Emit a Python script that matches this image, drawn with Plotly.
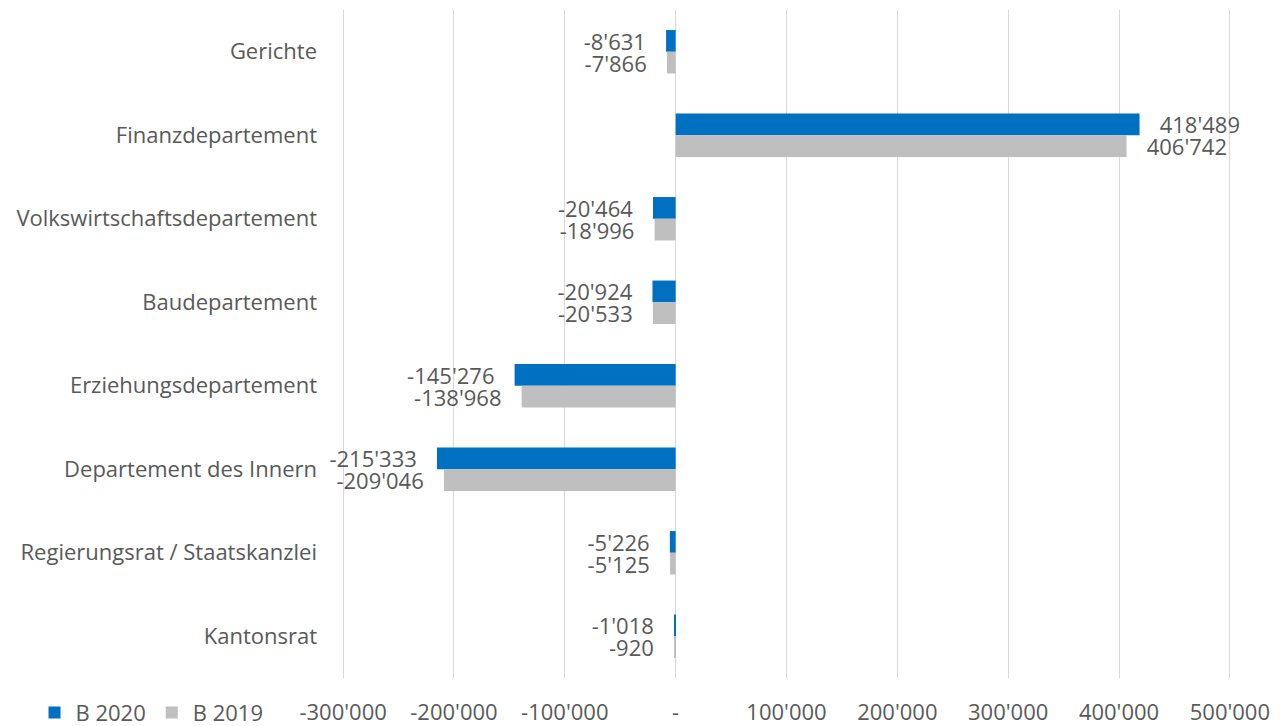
import plotly.graph_objects as go

# Departments, top to bottom
departments = [
    "Gerichte",
    "Finanzdepartement",
    "Volkswirtschaftsdepartement",
    "Baudepartement",
    "Erziehungsdepartement",
    "Departement des Innern",
    "Regierungsrat / Staatskanzlei",
    "Kantonsrat",
]
b2020 = [-8631, 418489, -20464, -20924, -145276, -215333, -5226, -1018]
b2019 = [-7866, 406742, -18996, -20533, -138968, -209046, -5125, -920]

tick_vals = [-300000, -200000, -100000, 0, 100000, 200000, 300000, 400000, 500000]
tick_text = ["-300'000", "-200'000", "-100'000", "-", "100'000", "200'000",
             "300'000", "400'000", "500'000"]

BLUE = "#0070C0"
GREY = "#BFBFBF"
TEXT = "#595959"
FONT = "Open Sans"
SIZE = 22
PAD = "\u00a0" * 3


def fmt(v):
    s = f"{v:,}".replace(",", "'")
    return s + PAD if v < 0 else PAD + s


fig = go.Figure()
for name, vals, col in [("B 2020", b2020, BLUE), ("B 2019", b2019, GREY)]:
    fig.add_trace(go.Bar(
        name=name,
        y=departments,
        x=vals,
        orientation="h",
        marker=dict(color=col, line=dict(width=0)),
        text=[fmt(v) for v in vals],
        textposition="outside",
        textfont=dict(family=FONT, size=SIZE, color=TEXT),
        constraintext="none",
        cliponaxis=False,
    ))

fig.update_layout(
    width=1283,
    height=726,
    margin=dict(l=342, r=52, t=10, b=48, autoexpand=False),
    paper_bgcolor="white",
    plot_bgcolor="white",
    barmode="group",
    bargap=0.48,
    bargroupgap=0,
    font=dict(family=FONT, size=SIZE, color=TEXT),
    showlegend=True,
    legend=dict(
        orientation="h",
        x=-0.347,
        xanchor="left",
        y=-0.052,
        yanchor="middle",
        font=dict(family=FONT, size=SIZE, color=TEXT),
        itemwidth=32,
        bgcolor="rgba(0,0,0,0)",
    ),
    xaxis=dict(
        range=[-301000, 501000],
        tickvals=tick_vals,
        ticktext=tick_text,
        showgrid=True,
        gridcolor="#D9D9D9",
        gridwidth=1,
        zeroline=True,
        zerolinecolor="#D9D9D9",
        zerolinewidth=1,
        showline=False,
        ticks="",
        ticklabelstandoff=19,
        tickfont=dict(family=FONT, size=SIZE, color=TEXT),
    ),
    yaxis=dict(
        autorange="reversed",
        showgrid=False,
        showline=False,
        ticks="",
        ticklabelstandoff=24,
        tickfont=dict(family=FONT, size=SIZE, color=TEXT),
    ),
)

fig.write_html("out.html")
